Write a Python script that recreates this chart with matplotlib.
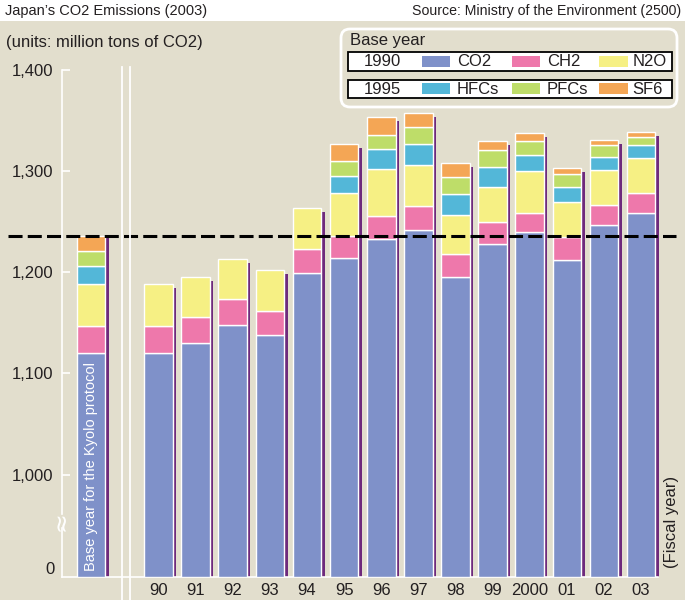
import numpy as np
import matplotlib
matplotlib.use("Agg")
import matplotlib.pyplot as plt
from matplotlib.patches import Rectangle, FancyBboxPatch

# --- data (million tons CO2 equivalent) ---
years = ["90", "91", "92", "93", "94", "95", "96", "97", "98", "99", "2000", "01", "02", "03"]
co2 = [1120, 1130, 1148, 1138, 1199, 1214, 1233, 1242, 1195, 1228, 1240, 1212, 1247, 1259]
ch2 = [27, 26, 26, 24, 24, 22, 23, 23, 23, 22, 19, 22.5, 19.5, 19]
n2o = [41, 39, 39, 40, 40, 42, 45.5, 41, 38.5, 34.5, 40.5, 34.5, 34.5, 35]
hfcs = [0, 0, 0, 0, 0, 17, 20.5, 21, 20.5, 19.5, 16, 15, 13, 13]
pfcs = [0, 0, 0, 0, 0, 15, 14, 16, 17, 17, 14.5, 13.5, 11.5, 8]
sf6 = [0, 0, 0, 0, 0, 17, 17, 14.5, 14, 9, 8, 5, 5.5, 5]

# base year for the Kyoto protocol (1990 for CO2/CH2/N2O, 1995 for the rest)
base_vals = [1120, 27, 41, 18, 15, 15]

gas_names = ["CO2", "CH2", "N2O", "HFCs", "PFCs", "SF6"]
gas_colors = ["#7F91C9", "#EE78AB", "#F6F084", "#53B7D8", "#BEDD69", "#F4A655"]

y_floor = 899      # value shown at the bottom of the broken axis ("0")
bg = "#E2DECD"
shadow = "#6E2A7C"
ink = "#231F20"

plt.rcParams["font.family"] = ["Liberation Sans", "DejaVu Sans"]

fig = plt.figure(figsize=(6.85, 6.0), dpi=100, facecolor=bg)

# --- main axes ---
ax = fig.add_axes([62 / 685, 23 / 600, 603 / 685, 517 / 600])
ax.set_facecolor("none")
ax.set_xlim(-2.6, 13.645)
ax.set_ylim(y_floor, y_floor + 517 / 1.0125)

x = np.arange(len(years))
base_x = -1.82
w = 0.77
sw = 0.073
drop = 4 / 1.0125

series = [co2, ch2, n2o, hfcs, pfcs, sf6]
bottom = np.full(len(years), float(y_floor))
for i, (vals, col) in enumerate(zip(series, gas_colors)):
    vals = np.array(vals, dtype=float)
    if i == 0:
        h = vals - y_floor
    else:
        h = vals
    keep = h > 0
    ax.bar(x[keep], h[keep], bottom=bottom[keep], width=w, color=col,
           edgecolor="white", linewidth=1.0, zorder=3)
    bottom = bottom + h
totals = bottom

# purple shadow line on the right of each bar
ax.bar(x + w / 2 + 0.02 + sw / 2, totals - y_floor - drop, bottom=y_floor,
       width=sw, color=shadow, linewidth=0, zorder=2)

# base year bar
b = float(y_floor)
for i, (v, col) in enumerate(zip(base_vals, gas_colors)):
    h = v - y_floor if i == 0 else v
    ax.bar(base_x, h, bottom=b, width=w, color=col, edgecolor="white",
           linewidth=1.0, zorder=3)
    b += h
base_total = b
ax.bar(base_x + w / 2 + 0.02 + sw / 2, base_total - y_floor - 2.7 / 1.0125,
       bottom=y_floor, width=sw, color=shadow, linewidth=0, zorder=2)
ax.text(base_x, y_floor + 6, "Base year for the Kyolo protocol", rotation=90,
        ha="center", va="bottom", color="white", fontsize=10.5, zorder=4)

# Kyoto base level
ax.axhline(base_total, xmin=-0.09, xmax=1.018, color="black", lw=2.2,
           ls=(0, (4.6, 1.7)), clip_on=False, zorder=5)

# axes styling
for s in ["top", "right"]:
    ax.spines[s].set_visible(False)
ax.spines["left"].set_color("white")
ax.spines["left"].set_linewidth(1.2)
ax.spines["left"].set_bounds(961, 1400)
ax.plot([-2.6, -2.6], [y_floor, 947], color="white", lw=1.2, clip_on=False, zorder=1)
ax.spines["bottom"].set_color("white")
ax.spines["bottom"].set_linewidth(1.2)
ax.spines["bottom"].set_bounds(-2.6, 13.45)

ax.set_yticks([1000, 1100, 1200, 1300, 1400])
ax.set_yticklabels(["1,000", "1,100", "1,200", "1,300", "1,400"])
ax.tick_params(axis="y", direction="in", length=5.5, width=1.2, color="white",
               labelcolor=ink, labelsize=12, pad=6)
ax.set_xticks(x)
ax.set_xticklabels(years)
ax.tick_params(axis="x", length=0, labelcolor=ink, labelsize=12, pad=4)

# --- overlay in pixel coords for header, legend and decorations ---
ov = fig.add_axes([0, 0, 1, 1], zorder=10)
ov.set_xlim(0, 685)
ov.set_ylim(600, 0)
ov.axis("off")
ov.patch.set_alpha(0)

ov.add_patch(Rectangle((0, 0), 685, 21, facecolor="white", edgecolor="none"))
ov.text(5, 11, "Japan\u2019s CO2 Emissions (2003)", fontsize=10.5, color=ink,
        ha="left", va="center")
ov.text(681, 11, "Source: Ministry of the Environment (2500)", fontsize=10.2,
        color=ink, ha="right", va="center")
ov.text(6, 42, "(units: million tons of CO2)", fontsize=12, color=ink,
        ha="left", va="center")

ov.text(55, 569, "0", fontsize=12, color=ink, ha="right", va="center")
ov.text(61, 521, "\u2248", fontsize=17, color="white", ha="center", va="center",
        rotation=90, family="DejaVu Sans")
for xx in [121.7, 130]:
    ov.plot([xx, xx], [67, 600], color="white", lw=1.3)

ov.text(672, 522, "(Fiscal year)", rotation=90, fontsize=12, color=ink,
        ha="center", va="center")

# legend
ov.add_patch(FancyBboxPatch((341, 29), 336, 78, boxstyle="round,pad=0,rounding_size=9",
                            facecolor=bg, edgecolor="white", linewidth=2))
ov.text(350, 40, "Base year", fontsize=12, color=ink, ha="left", va="center")
rows = [("1990", gas_names[:3], gas_colors[:3], 52, 19),
        ("1995", gas_names[3:], gas_colors[3:], 79.5, 18.5)]
sw_x = [421.7, 511.7, 599.3]
lab_x = [456.7, 547, 632.7]
for year, names, cols, top, hh in rows:
    ov.add_patch(Rectangle((348.5, top), 324, hh, facecolor="white",
                           edgecolor="black", linewidth=1.3))
    cy = top + hh / 2
    ov.text(382, cy + 0.5, year, fontsize=12, color=ink, ha="center", va="center")
    for sx, lx, nm, c in zip(sw_x, lab_x, names, cols):
        ov.add_patch(Rectangle((sx, cy - 5.5), 28.5, 11, facecolor=c, edgecolor="none"))
        ov.text(lx, cy + 0.5, nm, fontsize=12, color=ink, ha="left", va="center")

fig.savefig("out.png", dpi=100, facecolor=bg)
